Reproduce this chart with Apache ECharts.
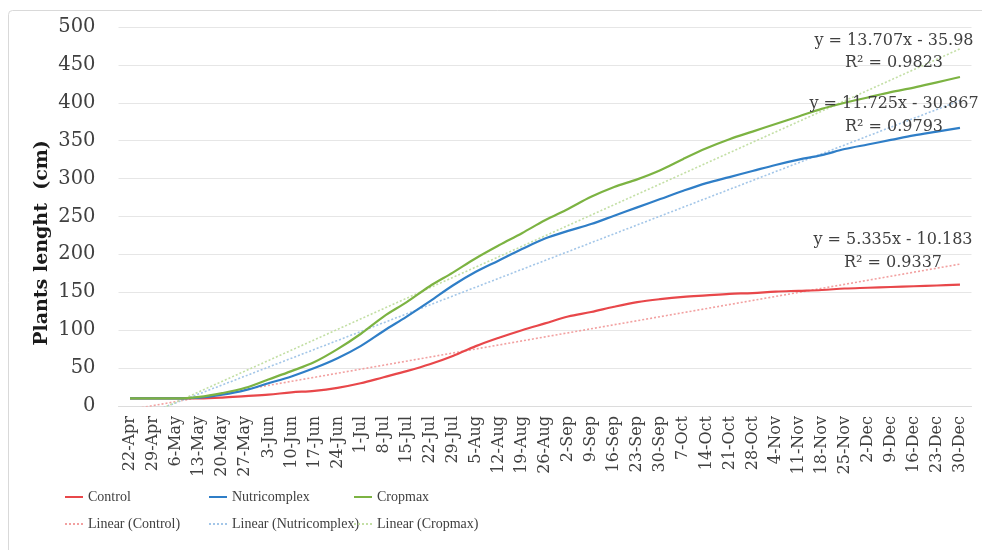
<!DOCTYPE html>
<html>
<head>
<meta charset="utf-8">
<script src="https://cdn.jsdelivr.net/npm/echarts@6/dist/echarts.min.js"></script>
<style>html,body{margin:0;padding:0;background:#fff;}#c{width:982px;height:550px;}</style>
</head>
<body>
<div id="c"></div>
<script>
const categories = ['22-Apr','29-Apr','6-May','13-May','20-May','27-May','3-Jun','10-Jun','17-Jun','24-Jun','1-Jul','8-Jul','15-Jul','22-Jul','29-Jul','5-Aug','12-Aug','19-Aug','26-Aug','2-Sep','9-Sep','16-Sep','23-Sep','30-Sep','7-Oct','14-Oct','21-Oct','28-Oct','4-Nov','11-Nov','18-Nov','25-Nov','2-Dec','9-Dec','16-Dec','23-Dec','30-Dec'];
const control = [10,10,10,10,11,13,15,18,20,24,30,38,46,55,66,79,90,100,109,118,124,131,137,141,144,146,148,149,151,152,153,155,156,157,158,159,160];
const nutricomplex = [10,10,10,11,15,21,30,39,50,63,79,99,118,138,159,177,192,207,221,231,240,251,262,273,284,294,302,310,318,325,331,339,345,351,357,362,367];
const cropmax = [10,10,10,12,17,24,35,46,58,75,95,118,137,158,176,195,212,228,245,260,276,289,299,311,326,340,352,362,372,382,392,400,407,414,420,427,434];
// trend line values at first and last category
const trendControl = [-4.8, 187.2];
const trendNutricomplex = [-19.1, 403];
const trendCropmax = [-22.3, 471.2];
const trendLabels = [
  ['y = 13.707x - 35.98', 'R\u00B2 = 0.9823'],
  ['y = 11.725x - 30.867', 'R\u00B2 = 0.9793'],
  ['y = 5.335x - 10.183', 'R\u00B2 = 0.9337']
];
const yTicks = [0,50,100,150,200,250,300,350,400,450,500];

const serif = '"DejaVu Serif", "Liberation Serif", serif';
const legFont = '"Liberation Serif", serif';
const txt = '#404040';
const colRed = '#E8474A', colBlue = '#2F7EC7', colGreen = '#7CB342';
const colRedL = '#F2A0A0', colBlueL = '#A3C6E8', colGreenL = '#C3DFA5';

function trendData(arr){ return [[categories[0], arr[0]], [categories[categories.length-1], arr[1]]]; }

function mainSeries(name, data, color){
  return {name, type:'line', data, smooth:0.35, symbol:'none', clip:true,
    lineStyle:{color, width:2.2}, itemStyle:{color}, z:3};
}
function trendSeries(name, arr, color){
  return {name, type:'line', data: trendData(arr), symbol:'none', clip:true,
    lineStyle:{color, width:1.6, type:[2,2]}, itemStyle:{color}, z:2};
}
function legendAt(name, left, top){
  return {data:[name], left, top, padding:0, itemWidth:18, itemHeight:12, itemGap:0,
    itemStyle:{opacity:0},
    textStyle:{fontFamily:legFont, fontSize:14, color:txt}};
}

const chart = echarts.init(document.getElementById('c'), null, {renderer:'canvas'});
chart.setOption({
  animation:false,
  backgroundColor:'#fff',
  grid:{left:118.5, right:10.5, top:27, bottom:144, containLabel:false},
  xAxis:{type:'category', data:categories, boundaryGap:true,
    axisLine:{show:true, lineStyle:{color:'#dcdcdc', width:1}},
    axisTick:{show:false},
    axisLabel:{rotate:90, interval:0, fontFamily:serif, fontSize:16, color:txt, margin:10}},
  yAxis:{type:'value', min:0, max:500, interval:50,
    axisLine:{show:false}, axisTick:{show:false},
    splitLine:{lineStyle:{color:'#e6e6e6', width:1}},
    axisLabel:{fontFamily:serif, fontSize:19.5, color:txt, margin:23,
      formatter:v=> yTicks.includes(v) ? String(v) : ''}},
  legend:[
    legendAt('Control', 64, 490),
    legendAt('Nutricomplex', 208, 490),
    legendAt('Cropmax', 353, 490),
    legendAt('Linear (Control)', 64, 517),
    legendAt('Linear (Nutricomplex)', 208, 517),
    legendAt('Linear (Cropmax)', 353, 517)
  ],
  series:[
    mainSeries('Control', control, colRed),
    mainSeries('Nutricomplex', nutricomplex, colBlue),
    mainSeries('Cropmax', cropmax, colGreen),
    trendSeries('Linear (Control)', trendControl, colRedL),
    trendSeries('Linear (Nutricomplex)', trendNutricomplex, colBlueL),
    trendSeries('Linear (Cropmax)', trendCropmax, colGreenL)
  ],
  graphic:[
    {type:'rect', shape:{x:8.5, y:10.5, width:990, height:560, r:4}, style:{fill:null, stroke:'#d9d9d9', lineWidth:1}, silent:true, z:-1},
    {type:'text', x:42, y:243, rotation:Math.PI/2, style:{text:'Plants lenght  (cm)', font:'bold 19px "DejaVu Serif", serif', fill:'#1a1a1a', textAlign:'center', textVerticalAlign:'middle'}},
    {type:'text', x:894, y:41, style:{text:trendLabels[0][0], font:'16px "DejaVu Serif", serif', fill:txt, textAlign:'center', textVerticalAlign:'middle'}, z:10},
    {type:'text', x:894, y:63, style:{text:trendLabels[0][1], font:'16px "DejaVu Serif", serif', fill:txt, textAlign:'center', textVerticalAlign:'middle'}, z:10},
    {type:'text', x:894, y:104, style:{text:trendLabels[1][0], font:'16px "DejaVu Serif", serif', fill:txt, textAlign:'center', textVerticalAlign:'middle'}, z:10},
    {type:'text', x:894, y:127, style:{text:trendLabels[1][1], font:'16px "DejaVu Serif", serif', fill:txt, textAlign:'center', textVerticalAlign:'middle'}, z:10},
    {type:'text', x:893, y:240, style:{text:trendLabels[2][0], font:'16px "DejaVu Serif", serif', fill:txt, textAlign:'center', textVerticalAlign:'middle'}, z:10},
    {type:'text', x:893, y:263, style:{text:trendLabels[2][1], font:'16px "DejaVu Serif", serif', fill:txt, textAlign:'center', textVerticalAlign:'middle'}, z:10}
  ]
});
</script>
</body>
</html>
